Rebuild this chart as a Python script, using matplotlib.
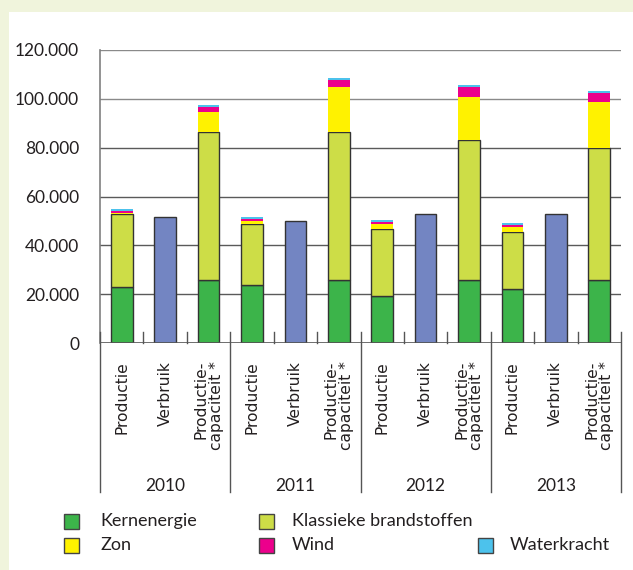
import matplotlib
matplotlib.use("Agg")
import matplotlib.pyplot as plt
from matplotlib.patches import Rectangle
import numpy as np

# data (per bar: Productie, Verbruik, Productie-capaciteit for each year)
years = ["2010", "2011", "2012", "2013"]
bar_labels = ["Productie", "Verbruik", "Productie-\ncapaciteit *"] * 4
kernenergie = [23000, 0, 25800, 23900, 0, 25800, 19400, 0, 25800, 22000, 0, 25800]
klassiek = [29700, 0, 60500, 24900, 0, 60500, 27300, 0, 57300, 23600, 0, 54100]
zon = [700, 0, 8400, 1200, 0, 18400, 2000, 0, 17700, 2000, 0, 18800]
wind = [700, 0, 1800, 700, 0, 3100, 800, 0, 4100, 600, 0, 3700]
waterkracht = [650, 0, 800, 800, 0, 800, 700, 0, 600, 800, 0, 800]
verbruik = [0, 51700, 0, 0, 50100, 0, 0, 52700, 0, 0, 52700, 0]
yticks = [0, 20000, 40000, 60000, 80000, 100000, 120000]

series = [
    ("Kernenergie", kernenergie, "#3cb44a", True),
    ("Klassieke brandstoffen", klassiek, "#cddd47", True),
    ("Zon", zon, "#fff200", False),
    ("Wind", wind, "#ec008c", False),
    ("Waterkracht", waterkracht, "#4cc2ec", False),
]
verbruik_color = "#7385c2"

plt.rcParams['font.family'] = ['Lato', 'DejaVu Sans']
txt = "#231f20"
W, H = 633, 570

fig = plt.figure(figsize=(W / 100, H / 100), dpi=100)
fig.patch.set_facecolor("#f0f4dc")
fig.add_artist(Rectangle((9 / W, 0), 1, 1 - 12 / H, transform=fig.transFigure,
                         facecolor="white", edgecolor="none", zorder=0))

x0, x1, y_top, y_zero = 100, 621, 50, 343
ax = fig.add_axes([x0 / W, 1 - y_zero / H, (x1 - x0) / W, (y_zero - y_top) / H])
ax.set_facecolor("none")

x = np.arange(len(bar_labels))
bottom = np.zeros(len(x))
for name, vals, color, edged in series:
    vals = np.array(vals, dtype=float)
    ax.bar(x, vals, 0.5, bottom=bottom, color=color,
           edgecolor="#333333" if edged else "none", linewidth=1.0, zorder=3)
    bottom += vals
ax.bar(x, verbruik, 0.5, color=verbruik_color, edgecolor="#333333",
       linewidth=1.0, zorder=3)

ax.set_xlim(-0.5, len(x) - 0.5)
ax.set_ylim(0, 120000)
ax.set_yticks(yticks)
ax.set_yticklabels([f"{v:,.0f}".replace(",", ".") for v in yticks])
ax.tick_params(axis="y", length=0, pad=15, labelsize=12.5, labelcolor=txt)
ax.set_xticks([])
for v in yticks[1:]:
    ax.axhline(v, color="#5a5a5a" if v < 100000 else "#8a8a8a", lw=1.0, zorder=1)
for s in ["top", "right", "bottom"]:
    ax.spines[s].set_visible(False)
ax.spines["left"].set_color("#808080")
ax.spines["left"].set_linewidth(1.2)
ax.axhline(0, color="#555555", lw=1.2, zorder=4)

xt = ax.get_xaxis_transform()
# small inner ticks between bars
for b in np.arange(0.5, len(x) - 1, 1.0):
    if (b + 0.5) % 3 == 0:
        continue
    ax.plot([b, b], [0, 0.038], color="#555555", lw=1.0, transform=xt,
            clip_on=False, zorder=4)
# group separators
for b in np.arange(-0.5, len(x), 3.0):
    ax.plot([b, b], [0.038, -0.51], color="#555555", lw=1.0, transform=xt,
            clip_on=False, zorder=4)

for i, lab in enumerate(bar_labels):
    ax.text(i, -0.0614, lab, transform=xt, rotation=90, ha="center", va="top",
            multialignment="right", fontsize=11.2, color=txt, linespacing=1.0,
            family="DejaVu Sans")
for g, yr in enumerate(years):
    ax.text(g * 3 + 1, -0.488, yr, transform=xt, ha="center", va="center",
            fontsize=12.5, color=txt)

# legend
legend_pos = [(64, 521), (259, 521), (64, 545), (259, 545), (478, 545)]
text_x = {64: 100, 259: 292, 478: 510}
for (name, vals, color, edged), (lx, ly) in zip(series, legend_pos):
    fig.add_artist(Rectangle((lx / W, 1 - (ly + 7.5) / H), 15 / W, 15 / H,
                             transform=fig.transFigure, facecolor=color,
                             edgecolor="#444444", linewidth=1.0))
    fig.text(text_x[lx] / W, 1 - ly / H, name, ha="left", va="center",
             fontsize=13, color=txt)

fig.savefig("out.png", dpi=100, facecolor=fig.get_facecolor())
